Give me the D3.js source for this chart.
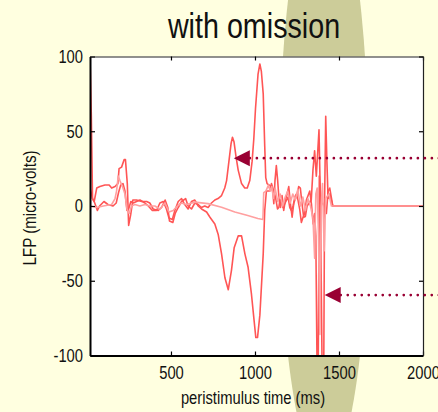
<!DOCTYPE html>
<html><head><meta charset="utf-8">
<script src="https://cdn.jsdelivr.net/npm/d3@7"></script>
<style>
html,body{margin:0;padding:0;background:#FFFFE0;}
svg{display:block;}
</style></head>
<body><svg id="chart" width="438" height="412"></svg>
<script>
// ---- data (time in ms, LFP in micro-volts) ----
const titleText = "with omission";
const xLabel = "peristimulus time (ms)";
const yLabel = "LFP (micro-volts)";
const xTicks = [500, 1000, 1500, 2000];
const yTicks = [-100, -50, 0, 50, 100];

const traceDown = [
 [18,100],[26,60],[33,5],[43,3],[62,-3],[75,0],[101,3],[125,1],[155,0],[174,2],[188,9],[201,14],[214,15],[226,10],
 [238,-3],[248,-2],[261,3],[275,2],[295,3],[315,4],[345,2],[365,0],[389,-3],[414,-3],[434,2],[454,3],[473,-2],
 [488,-8],[508,-9],[523,-3],[543,3],[563,5],[582,1],[602,-2],[622,3],[642,4],[662,0],[682,-2],[712,-4],[732,-7.5],
 [761,-12],[781,-19],[801,-32],[821,-48],[841,-56],[860,-43],[876,-28],[900,-20],[920,-20],[940,-32],[959,-41],
 [979,-59],[995,-77],[1005,-88],[1015,-88],[1029,-73],[1049,-32],[1058,-3],[1068,10],[1088,10],[1098,15],[1114,9],
 [1122,6],[1134,-2],[1142,-1],[1148,4],[1157,4],[1167,-1],[1177,1.5],[1197,6],[1207,-1],[1217,-3],[1227,0],[1237,6],
 [1246,8],[1256,4],[1266,-2],[1276,-11],[1286,-7.5],[1296,-5],[1306,4],[1316,7],[1326,10],[1336,1.5],[1346,-12],
 [1355,-5],[1362,-20],[1370,-115],[1376,-115],[1383,20],[1392,5],[1410,0],[1425,-5],[1435,10],[1445,12],[1463,0],[2000,0]
];

const traceUp = [
 [18,12],[33,5],[43,3],[58,12],[77,13],[107,14],[132,14],[147,12],[167,13],[184,15],[191,25],[206,26],[221,31],[229,31],
 [240,15],[248,-13],[260,-6],[273,4],[295,4],[325,3],[355,3],[374,2],[394,-2],[424,-3],[444,-1],[465,4],[481,-1],
 [491,-10],[511,-11],[525,-5],[543,-1],[563,3],[587,5],[602,0],[622,-2],[642,2],[662,1],[681,-1],[701,0],[721,-1],
 [741,2],[761,4],[780,5],[801,7],[820,12],[831,17],[845,30],[858,42],[866,46],[875,43],[887,33],[900,24],[920,15],
 [939,12],[954,12],[969,17],[983,30],[993,45],[1003,65],[1018,88],[1029,95],[1038,90],[1049,75],[1058,40],[1064,19],
 [1072,15],[1085,14],[1097,13],[1107,9],[1112,1.5],[1119,17],[1127,27],[1135,17],[1142,6],[1152,-1],[1161,7],[1171,-3],
 [1181,4],[1191,8],[1201,13],[1211,1.5],[1221,-7.5],[1231,2],[1251,8],[1260,13],[1270,12],[1280,1.5],[1290,-7.5],
 [1300,-7],[1310,0],[1335,4],[1345,24],[1355,37],[1365,20],[1381,51],[1390,0],[1400,-115],[1409,-115],[1414,0],
 [1421,60],[1428,30],[1435,5],[1445,8],[1463,0],[2000,0]
];

const tracePink = [
 [18,0],[58,-1],[97,0],[147,1],[167,5],[176,10],[186,20],[196,17],[211,13],[226,8],[238,-2],[251,-5],[265,0],[285,1],
 [315,0],[345,1],[374,0],[404,0],[434,-2],[464,2],[488,-4],[513,-3],[538,0],[563,2],[592,1],[642,2.6],[720,1.6],
 [801,-0.8],[880,-4],[957,-6.4],[1017,-8.4],[1047,-9],[1052,9],[1065,10],[1080,14],[1090,10],[1100,13],[1110,5],
 [1120,12],[1135,3],[1150,8],[1165,0],[1180,6],[1195,10],[1210,2],[1225,8],[1240,4],[1255,11],[1270,0],[1285,6],
 [1300,-3],[1315,5],[1330,0],[1345,-8],[1355,-35],[1362,8],[1370,12],[1378,-20],[1386,-86],[1394,0],[1402,15],
 [1412,-30],[1420,5],[1440,8],[1455,0],[2000,0]
];

// annotation arrows: [time of tip, value]
const arrowTips = [[874, 32], [1415, -59.6]];

// ---- drawing ----
const FONT = "'Liberation Sans',Arial,sans-serif";
const NARROW = 0.82;
const svg = d3.select("#chart");
const x = d3.scaleLinear().domain([18, 2000]).range([90, 423]);
const y = d3.scaleLinear().domain([-100, 100]).range([355.5, 56.5]);

svg.append("rect").attr("width", 438).attr("height", 412).attr("fill", "#FFFFE0");
svg.append("ellipse").attr("cx", 324).attr("cy", 178).attr("rx", 45).attr("ry", 296).attr("fill", "#CCCC99");

svg.append("rect").attr("x", 90).attr("y", 56.5).attr("width", 333).attr("height", 299).attr("fill", "#FFFFFF");

svg.append("defs").append("clipPath").attr("id", "plotclip")
  .append("rect").attr("x", 90).attr("y", 56.5).attr("width", 333).attr("height", 299);

const line = d3.line().x(d => x(d[0])).y(d => y(d[1]));
const g = svg.append("g").attr("clip-path", "url(#plotclip)");
[[traceUp, "#FF5555"], [traceDown, "#FF5555"], [tracePink, "#FFA0A0"]].forEach(([data, col]) => {
  g.append("path").datum(data).attr("d", line).attr("fill", "none")
    .attr("stroke", col).attr("stroke-width", 1.6).attr("stroke-linejoin", "round");
});

// axes
const fmt = d => String(d);
const ax = svg.append("g");
const axBottom = ax.append("g").attr("transform", "translate(0,355.5)")
  .call(d3.axisBottom(x).tickValues(xTicks).tickSize(-4).tickSizeOuter(0).tickPadding(11).tickFormat(fmt));
const axLeft = ax.append("g").attr("transform", "translate(90,0)")
  .call(d3.axisLeft(y).tickValues(yTicks).tickSize(-5).tickSizeOuter(0).tickPadding(7 / NARROW).tickFormat(fmt));
const axTop = ax.append("g").attr("transform", "translate(0,56.5)")
  .call(d3.axisTop(x).tickValues(xTicks).tickSize(-4).tickSizeOuter(0).tickFormat(""));
const axRight = ax.append("g").attr("transform", "translate(423,0)")
  .call(d3.axisRight(y).tickValues(yTicks).tickSize(-4).tickSizeOuter(0).tickFormat(""));

[axBottom, axLeft].forEach(a => {
  a.select(".domain").attr("stroke", "#000").attr("stroke-width", 2);
  a.selectAll(".tick line").attr("stroke", "#000").attr("stroke-width", 1.2);
  a.selectAll(".tick text").attr("fill", "#111").style("font-size", "18px").style("font-family", FONT)
    .attr("transform", `scale(${NARROW},1)`);
});
[axTop, axRight].forEach(a => {
  a.select(".domain").attr("stroke", "#222").attr("stroke-width", 1.2);
  a.selectAll(".tick line").attr("stroke", "#000").attr("stroke-width", 1.2);
});

// titles (horizontally condensed to mimic a narrow face)
function narrowText(tx, ty, rot, size, str, extra) {
  const t = svg.append("text")
    .attr("transform", `translate(${tx},${ty}) rotate(${rot}) scale(${NARROW},1)`)
    .attr("text-anchor", "middle")
    .style("font-family", FONT).style("font-size", size + "px").attr("fill", "#111").text(str);
  if (extra) extra(t);
  return t;
}
narrowText(254, 38, 0, 35, titleText);
narrowText(253, 404, 0, 18, xLabel);
narrowText(30, 208, -90, 18.5, yLabel, t => t.attr("dominant-baseline", "central"));

// arrows
arrowTips.forEach(([t, v]) => {
  const tx = x(t), ty = y(v);
  svg.append("line").attr("x1", tx + 16).attr("x2", 440).attr("y1", ty).attr("y2", ty)
    .attr("stroke", "#990033").attr("stroke-width", 2.6).attr("stroke-linecap", "round")
    .attr("stroke-dasharray", "0.1 6.9");
  svg.append("path").attr("d", `M${tx},${ty} L${tx + 16},${ty - 8} L${tx + 16},${ty + 8} Z`)
    .attr("fill", "#990033");
});
</script></body></html>
